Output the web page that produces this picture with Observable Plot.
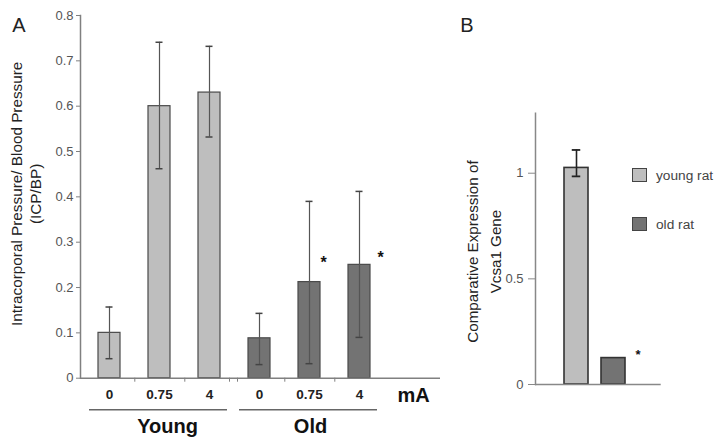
<!DOCTYPE html>
<html><head><meta charset="utf-8">
<script src="https://cdn.jsdelivr.net/npm/d3@7"></script>
<script src="https://cdn.jsdelivr.net/npm/@observablehq/plot@0.6"></script>
<style>
body{margin:0;background:#fff;font-family:"Liberation Sans",Arial,sans-serif;}
#wrap{position:relative;width:722px;height:445px;overflow:hidden;background:#fff;}
#a{position:absolute;left:0;top:0;}
#b{position:absolute;left:440px;top:0;}
.legend{position:absolute;left:632px;font-size:13.7px;color:#444;display:flex;align-items:center;height:16px;}
.sw{width:13px;height:12px;border:1.5px solid #444;margin-right:9px;}
</style></head><body>
<div id="wrap"><div id="a"></div><div id="b"></div>
<div class="legend" style="top:167px"><span class="sw" style="background:#bebebe"></span>young rat</div>
<div class="legend" style="top:216px"><span class="sw" style="background:#737373"></span>old rat</div>
</div>
<script>
// Panel A data
const groups = ["Young", "Young", "Young", "Old", "Old", "Old"];
const currents = ["0", "0.75", "4", "0", "0.75", "4"];
const icpMean = [0.10, 0.60, 0.63, 0.088, 0.212, 0.25];
const icpLow = [0.043, 0.462, 0.532, 0.030, 0.032, 0.090];
const icpHigh = [0.157, 0.741, 0.732, 0.143, 0.390, 0.412];
const yTicksA = [0, 0.1, 0.2, 0.3, 0.4, 0.5, 0.6, 0.7, 0.8];
const groupNames = ["Young", "Old"];
const starsA = [{id: "Old 0.75", y: 0.254}, {id: "Old 4", y: 0.265}];
const yLabelA = "Intracorporal Pressure/ Blood Pressure\n(ICP/BP)";
const unitA = "mA";

// Panel B data
const rats = ["young rat", "old rat"];
const vcsaMean = [1.025, 0.125];
const vcsaLow = [0.985, null];
const vcsaHigh = [1.11, null];
const yTicksB = [0, 0.5, 1];
const yLabelB = "Comparative Expression of\nVcsa1 Gene";

const FONT = "'Liberation Sans', Arial, sans-serif";
const colorsA = ["#bebebe", "#737373"];

const dataA = groups.map((g, i) => ({
  id: g + " " + currents[i], group: g, current: currents[i],
  mean: icpMean[i], lo: icpLow[i], hi: icpHigh[i]
}));
const ids = dataA.map(d => d.id);
const curOf = Object.fromEntries(dataA.map(d => [d.id, d.current]));
const spans = groupNames.map(g => ({g, a: dataA.filter(d => d.group === g)[0].id, b: dataA.filter(d => d.group === g).slice(-1)[0].id}));

const plotA = Plot.plot({
  width: 440, height: 445,
  marginLeft: 80, marginRight: 0, marginTop: 15, marginBottom: 67.3,
  style: {fontFamily: FONT, background: "transparent", overflow: "visible"},
  x: {domain: ids, range: [80, 387], paddingInner: 0.565, paddingOuter: 0.316, axis: null},
  y: {domain: [0, 0.8], axis: null},
  color: {domain: groupNames, range: colorsA},
  marks: [
    Plot.barY(dataA, {x: "id", y: "mean", fill: "group", stroke: "#4a4a4a", strokeWidth: 1.2}),
    Plot.ruleX(dataA, {x: "id", y1: "lo", y2: "hi", stroke: "#555", strokeWidth: 1.2}),
    Plot.tickY(dataA, {x: "id", y: "lo", stroke: "#444", strokeWidth: 1.5, insetLeft: 7.5, insetRight: 7.5}),
    Plot.tickY(dataA, {x: "id", y: "hi", stroke: "#444", strokeWidth: 1.5, insetLeft: 7.5, insetRight: 7.5}),
    Plot.frame({anchor: "left", stroke: "#808080", strokeWidth: 1.5}),
    Plot.ruleY([0], {stroke: "#808080", strokeWidth: 1.5}),
    Plot.ruleX(["Young 0", "Young 0.75", "Old 0", "Old 0.75"], {x: d => d, y1: 0, y2: 0, insetBottom: -4, dx: 25.3, stroke: "#808080"}),
    Plot.ruleX(["Young 4"], {x: d => d, y1: 0, y2: 0, insetBottom: -4, dx: 20, stroke: "#808080"}),
    Plot.ruleX(["Old 0"], {x: d => d, y1: 0, y2: 0, insetBottom: -4, dx: -22, stroke: "#808080"}),
    Plot.axisY({ticks: yTicksA, tickSize: 4, tickPadding: 3, fontSize: 13, fill: "#555", stroke: "#808080", tickFormat: d => d === 0 ? "0" : d.toFixed(1), label: null}),
    Plot.axisX({tickSize: 0, tickPadding: 11, fontSize: 13.5, fontWeight: "bold", fill: "#222", tickFormat: id => curOf[id], label: null}),
    Plot.ruleY(spans, {x1: "a", x2: "b", y: 0, dy: 31.6, insetLeft: -9, insetRight: -7, stroke: "#666", strokeWidth: 1.5}),
    Plot.text(["Young"], {x: d => d + " 0.75", y: 0, dy: 48.6, dx: 8, text: d => d, fontSize: 20, fontWeight: "bold", fill: "#111"}),
    Plot.text(["Old"], {x: d => d + " 0.75", y: 0, dy: 48.6, dx: 1, text: d => d, fontSize: 20, fontWeight: "bold", fill: "#111"}),
    Plot.text([unitA], {x: () => "Old 4", y: 0, dx: 54, dy: 17, text: d => d, fontSize: 20, fontWeight: "bold", fill: "#111"}),
    Plot.text([starsA[0]], {x: "id", y: "y", text: () => "*", dx: 14, fontSize: 16, fontWeight: "bold", fill: "#111"}),
    Plot.text([starsA[1]], {x: "id", y: "y", text: () => "*", dx: 21, fontSize: 16, fontWeight: "bold", fill: "#111"}),
    Plot.text([yLabelA], {frameAnchor: "left", textAnchor: "middle", lineAnchor: "middle", rotate: -90, dx: -55, dy: -3, fontSize: 15.3, lineHeight: 1.25, fill: "#222"}),
    Plot.text(["A"], {frameAnchor: "top-left", textAnchor: "middle", dx: -61.5, dy: 2.5, fontSize: 20, fill: "#222"})
  ]
});
document.getElementById("a").appendChild(plotA);

const dataB = rats.map((r, i) => ({rat: r, mean: vcsaMean[i], lo: vcsaLow[i], hi: vcsaHigh[i]}));
const errB = dataB.filter(d => d.hi != null);
const plotB = Plot.plot({
  width: 282, height: 445,
  marginLeft: 95, marginRight: 61.3, marginTop: 112.7, marginBottom: 61,
  style: {fontFamily: FONT, background: "transparent", overflow: "visible"},
  x: {domain: rats, range: [95, 214.5], paddingInner: 0.347, paddingOuter: 0.767, axis: null},
  y: {domain: [0, 1.284], axis: null},
  color: {domain: rats, range: colorsA},
  marks: [
    Plot.barY(dataB, {x: "rat", y: "mean", fill: "rat", stroke: "#333", strokeWidth: 1.6}),
    Plot.ruleX(errB, {x: "rat", y1: "lo", y2: "hi", stroke: "#222", strokeWidth: 1.6}),
    Plot.tickY(errB, {x: "rat", y: "lo", stroke: "#222", strokeWidth: 1.8, insetLeft: 7.75, insetRight: 7.75}),
    Plot.tickY(errB, {x: "rat", y: "hi", stroke: "#222", strokeWidth: 1.8, insetLeft: 7.75, insetRight: 7.75}),
    Plot.frame({anchor: "left", stroke: "#888", strokeWidth: 1.5}),
    Plot.ruleY([0], {stroke: "#888", strokeWidth: 1.5}),
    Plot.axisY({ticks: yTicksB, tickSize: 7, tickPadding: 5, fontSize: 13, fill: "#555", stroke: "#888", tickFormat: d => String(d), label: null}),
    Plot.text([dataB[1]], {x: "rat", y: "mean", text: () => "*", dx: 24.5, dy: -3, fontSize: 13, fontWeight: "bold", fill: "#111"}),
    Plot.text([yLabelB], {frameAnchor: "left", textAnchor: "middle", lineAnchor: "middle", rotate: -90, dx: -53.5, dy: 2.7, fontSize: 15.2, lineHeight: 1.5, fill: "#222"}),
    Plot.text(["B"], {frameAnchor: "top-left", textAnchor: "middle", dx: -68.5, dy: -95.2, fontSize: 20, fill: "#222"})
  ]
});
document.getElementById("b").appendChild(plotB);
</script>
</body></html>
